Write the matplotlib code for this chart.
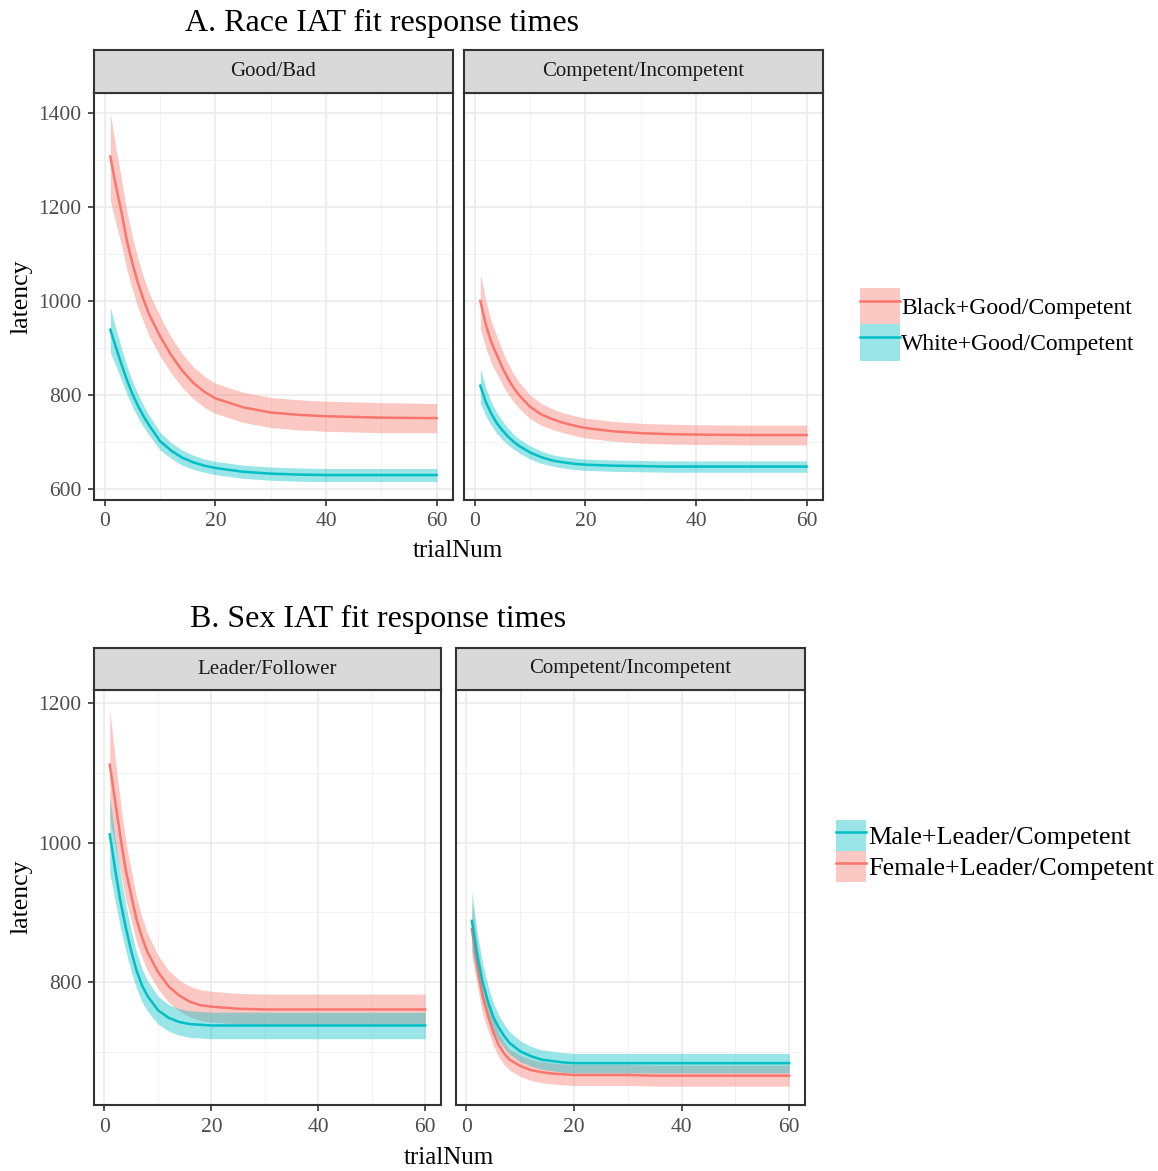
import numpy as np
import matplotlib
matplotlib.use('Agg')
import matplotlib.pyplot as plt
from matplotlib.patches import Patch
from matplotlib.lines import Line2D

plt.rcParams['font.family'] = ['Liberation Serif', 'DejaVu Serif']

RED = '#F8766D'
CYAN = '#00BFC4'

trial = [1, 2, 3, 4, 5, 6, 7, 8, 10, 12, 14, 16, 18, 20, 25, 30, 35, 40, 50, 60]

# A. Race IAT - Good/Bad
a_gb_black = [1307, 1245, 1190, 1128, 1080, 1038, 1003, 972, 925, 885, 852, 826, 807, 793, 774, 763, 758, 755, 752, 751]
a_gb_black_ci = [93, 80, 70, 62, 56, 52, 48, 46, 42, 38, 36, 34, 33, 32, 32, 32, 32, 32, 32, 31]
a_gb_white = [939, 902, 866, 832, 802, 777, 755, 736, 702, 682, 667, 657, 650, 645, 637, 633, 631, 630, 630, 630]
a_gb_white_ci = [48, 40, 34, 30, 27, 25, 23, 21, 19, 17, 16, 15, 14, 14, 14, 14, 14, 14, 14, 14]

# A. Race IAT - Competent/Incompetent
a_ci_black = [1000, 950, 912, 885, 858, 835, 816, 800, 775, 759, 749, 741, 735, 730, 723, 719, 717, 716, 715, 715]
a_ci_black_ci = [58, 50, 44, 40, 36, 33, 30, 28, 25, 23, 22, 21, 21, 21, 21, 21, 21, 21, 21, 21]
a_ci_white = [820, 785, 760, 740, 725, 712, 701, 692, 678, 668, 661, 657, 654, 652, 650, 649, 648, 648, 648, 648]
a_ci_white_ci = [37, 30, 25, 22, 20, 18, 16, 15, 14, 13, 12, 12, 12, 12, 12, 12, 12, 12, 12, 12]

# B. Sex IAT - Leader/Follower
b_lf_male = [1012, 962, 916, 878, 845, 817, 796, 781, 760, 749, 743, 740, 739, 738, 738, 738, 738, 738, 738, 738]
b_lf_male_ci = [55, 45, 38, 33, 29, 26, 24, 22, 20, 19, 19, 19, 19, 19, 19, 19, 19, 19, 19, 19]
b_lf_female = [1112, 1060, 1008, 960, 925, 890, 865, 844, 815, 794, 781, 772, 767, 765, 762, 761, 761, 761, 761, 761]
b_lf_female_ci = [78, 62, 50, 42, 36, 32, 29, 27, 24, 23, 22, 22, 22, 22, 22, 22, 22, 22, 22, 22]

# B. Sex IAT - Competent/Incompetent
b_ci_male = [888, 838, 800, 772, 750, 735, 723, 713, 701, 694, 689, 687, 685, 684, 684, 684, 684, 684, 684, 684]
b_ci_male_ci = [42, 33, 27, 23, 20, 18, 17, 16, 15, 14, 14, 14, 14, 14, 14, 14, 14, 14, 14, 14]
b_ci_female = [876, 825, 780, 752, 728, 710, 698, 689, 680, 674, 671, 669, 668, 667, 667, 667, 666, 666, 666, 666]
b_ci_female_ci = [38, 30, 25, 21, 19, 17, 16, 15, 15, 15, 15, 15, 15, 15, 15, 15, 15, 15, 15, 15]

W, H = 1158, 1171
fig = plt.figure(figsize=(W / 100, H / 100), dpi=100)


def rect(x0, y0, x1, y1):
    return [x0 / W, 1 - y1 / H, (x1 - x0) / W, (y1 - y0) / H]


def band(ax, mid, ci, color):
    mid = np.array(mid)
    ci = np.array(ci)
    ax.fill_between(trial, mid - ci, mid + ci, color=color, alpha=0.4, lw=0)
    ax.plot(trial, mid, color=color, lw=1.8)


def panel(box, strip_y, title, ylim, yticks, yminor, show_y):
    ax = fig.add_axes(rect(*box))
    ax.set_xlim(-1.95, 62.95)
    ax.set_ylim(*ylim)
    ax.set_xticks([0, 20, 40, 60])
    ax.set_xticks([10, 30, 50], minor=True)
    ax.set_yticks(yticks)
    ax.set_yticks(yminor, minor=True)
    ax.grid(True, which='major', color='#EBEBEB', lw=1.2)
    ax.grid(True, which='minor', color='#F2F2F2', lw=0.7)
    ax.set_axisbelow(True)
    for s in ax.spines.values():
        s.set_color('#333333')
        s.set_linewidth(1.5)
    ax.tick_params(which='major', direction='out', length=4, width=1.2, color='#333333',
                   labelcolor='#4D4D4D', labelsize=15.5, pad=5)
    ax.tick_params(which='minor', length=0)
    if not show_y:
        ax.tick_params(axis='y', which='both', left=False, labelleft=False)
    st = fig.add_axes(rect(box[0], strip_y, box[2], box[1]))
    st.set_facecolor('#D9D9D9')
    st.set_xticks([])
    st.set_yticks([])
    for s in st.spines.values():
        s.set_color('#333333')
        s.set_linewidth(1.5)
    st.text(0.5, 0.5, title, ha='center', va='center', fontsize=15, color='#1A1A1A',
            transform=st.transAxes)
    return ax


# A panels
ylim_a = (577, 1442)
ax = panel((94, 93, 453, 500), 50, 'Good/Bad', ylim_a, [600, 800, 1000, 1200, 1400],
           [700, 900, 1100, 1300], True)
band(ax, a_gb_black, a_gb_black_ci, RED)
band(ax, a_gb_white, a_gb_white_ci, CYAN)

ax = panel((464, 93, 823, 500), 50, 'Competent/Incompetent', ylim_a, [600, 800, 1000, 1200, 1400],
           [700, 900, 1100, 1300], False)
band(ax, a_ci_black, a_ci_black_ci, RED)
band(ax, a_ci_white, a_ci_white_ci, CYAN)

# B panels
ylim_b = (624, 1219)
ax = panel((94, 690, 441, 1105), 648, 'Leader/Follower', ylim_b, [800, 1000, 1200],
           [700, 900, 1100], True)
band(ax, b_lf_female, b_lf_female_ci, RED)
band(ax, b_lf_male, b_lf_male_ci, CYAN)

ax = panel((456, 690, 805, 1105), 648, 'Competent/Incompetent', ylim_b, [800, 1000, 1200],
           [700, 900, 1100], False)
band(ax, b_ci_female, b_ci_female_ci, RED)
band(ax, b_ci_male, b_ci_male_ci, CYAN)

# titles and axis labels
fig.text(382 / W, 1 - 23 / H, 'A. Race IAT fit response times', ha='center', va='center', fontsize=23)
fig.text(378 / W, 1 - 619 / H, 'B. Sex IAT fit response times', ha='center', va='center', fontsize=23)
fig.text(458 / W, 1 - 551 / H, 'trialNum', ha='center', va='center', fontsize=18)
fig.text(449 / W, 1 - 1158 / H, 'trialNum', ha='center', va='center', fontsize=18)
fig.text(22 / W, 1 - 297 / H, 'latency', ha='center', va='center', rotation=90, fontsize=18.5)
fig.text(22 / W, 1 - 897 / H, 'latency', ha='center', va='center', rotation=90, fontsize=18.5)


def key(color):
    return (Patch(facecolor=color, alpha=0.4, lw=0), Line2D([], [], color=color, lw=1.8))


fig.legend([key(RED), key(CYAN)], ['Black+Good/Competent', 'White+Good/Competent'],
           loc='upper left', bbox_to_anchor=(860 / W, 1 - 288 / H), frameon=False,
           fontsize=17, handlelength=1.7, handleheight=2.0, handletextpad=0.05,
           labelspacing=0.0, borderpad=0, borderaxespad=0)
fig.legend([key(CYAN), key(RED)], ['Male+Leader/Competent', 'Female+Leader/Competent'],
           loc='upper left', bbox_to_anchor=(836 / W, 1 - 820 / H), frameon=False,
           fontsize=18.8, handlelength=1.15, handleheight=1.45, handletextpad=0.1,
           labelspacing=0.0, borderpad=0, borderaxespad=0)

plt.savefig('out.png', dpi=100)
